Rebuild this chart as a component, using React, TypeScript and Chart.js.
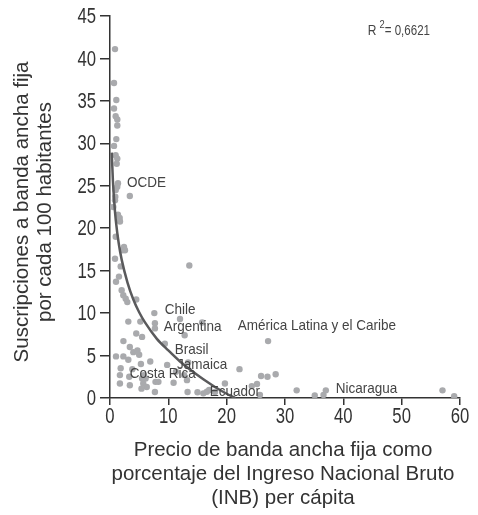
import React, { useEffect, useRef } from "react";
import { Chart, registerables } from "chart.js";

Chart.register(...registerables);

// Scatter data: price of fixed broadband (% of GNI per capita) vs subscriptions per 100 inhabitants
const priceX = [
  0.86, 0.69, 1.08, 0.69, 0.97, 1.25, 1.25, 1.08, 0.69, 0.97, 1.25, 1.15,
  1.37, 1.25, 0.98, 0.91, 0.86, 3.4, 0.57, 1.37, 1.66, 1.71, 0.98, 2.4,
  2.1, 2.57, 0.86, 1.83, 1.54, 13.6, 1.03, 2.0, 2.28, 2.69, 2.97, 4.5,
  7.6, 12.0, 15.8, 3.14, 5.2, 7.7, 7.7, 12.8, 4.5, 5.5, 2.3, 9.4,
  3.4, 4.0, 4.7, 5.0, 13.4, 1.03, 2.29, 3.14, 6.9, 9.8, 5.3, 1.83,
  3.83, 11.3, 1.7, 3.3, 5.8, 6.1, 5.5, 12.7, 13.2, 7.8, 1.7, 3.4,
  5.7, 6.3, 5.4, 7.7, 8.3, 10.9, 13.3, 15.0, 16.0, 16.6, 17.0, 18.0,
  19.7, 22.2, 24.3, 25.2, 25.9, 27.0, 28.4, 27.1, 25.7, 32.0, 35.1, 36.6,
  37.0, 57.0, 59.0,
];
const subsY = [
  41.1, 37.1, 35.1, 34.1, 33.2, 32.8, 32.1, 30.5, 29.7, 28.6, 28.2, 27.6,
  25.3, 24.9, 24.5, 23.7, 23.3, 23.8, 22.5, 21.6, 21.2, 20.8, 19.0, 17.8,
  17.4, 17.4, 16.4, 15.5, 14.3, 15.6, 13.7, 12.7, 12.1, 11.7, 11.3, 11.6,
  10.0, 9.3, 8.9, 9.0, 9.0, 8.8, 8.2, 7.4, 7.6, 7.2, 6.7, 6.4,
  6.0, 5.4, 5.6, 5.1, 4.2, 4.9, 4.9, 4.5, 4.3, 3.9, 4.0, 3.5,
  3.4, 3.1, 2.7, 2.5, 2.7, 2.3, 2.3, 2.7, 2.1, 1.9, 1.7, 1.5,
  1.7, 1.3, 1.1, 0.7, 1.9, 1.8, 0.7, 0.67, 0.55, 0.74, 0.94, 0.7,
  1.7, 3.4, 1.4, 1.65, 2.6, 2.5, 2.8, 6.7, 0.35, 0.9, 0.3, 0.35,
  0.9, 0.9, 0.2,
];

// Trend curve
const trendX = [0.3, 0.5, 0.75, 1, 1.5, 2, 3, 4, 5, 6, 8, 10, 12, 14, 16, 18, 20, 21.5];
const trendY = [28.9, 25.6, 22.9, 20.9, 18.2, 16.3, 13.6, 11.6, 10.1, 8.9, 7.0, 5.6, 4.3, 3.2, 2.2, 1.3, 0.5, 0.0];

const xTickValues = [0, 10, 20, 30, 40, 50, 60];
const yTickValues = [0, 5, 10, 15, 20, 25, 30, 35, 40, 45];

const noteTexts = ["OCDE", "Chile", "Argentina", "Brasil", "Jamaica", "Costa Rica", "Ecuador", "América Latina y el Caribe", "Nicaragua"];
const noteX = [2.9, 9.4, 9.2, 11.1, 11.5, 3.4, 17.1, 21.9, 38.7];
const noteY = [25.4, 10.4, 8.4, 5.65, 3.9, 2.8, 0.7, 8.5, 1.05];

const r2Text = "= 0,6621";
const xTitleLines = ["Precio de banda ancha fija como", "porcentaje del Ingreso Nacional Bruto", "(INB) per cápita"];
const yTitleLines = ["Suscripciones a banda ancha fija", "por cada 100 habitantes"];

const SANS = "'Liberation Sans', Arial, sans-serif";

function drawSqueezed(
  ctx: CanvasRenderingContext2D,
  text: string,
  x: number,
  y: number,
  sx: number,
  align: CanvasTextAlign
) {
  ctx.save();
  ctx.translate(x, y);
  ctx.scale(sx, 1);
  ctx.textAlign = align;
  ctx.fillText(text, 0, 0);
  ctx.restore();
}

const textPlugin = {
  id: "textPlugin",
  afterDraw(chart: any) {
    const ctx = chart.ctx as CanvasRenderingContext2D;
    const xs = chart.scales.x;
    const ys = chart.scales.y;
    const area = chart.chartArea;
    ctx.save();
    ctx.textBaseline = "middle";

    // tick labels
    ctx.fillStyle = "#333";
    ctx.font = `22px ${SANS}`;
    yTickValues.forEach((v) => {
      drawSqueezed(ctx, String(v), area.left - 14, ys.getPixelForValue(v) + 1, 0.76, "right");
    });
    xTickValues.forEach((v) => {
      drawSqueezed(ctx, String(v), xs.getPixelForValue(v), area.bottom + 19, 0.76, "center");
    });

    // annotations
    ctx.fillStyle = "#444";
    ctx.font = `15px ${SANS}`;
    noteTexts.forEach((t, i) => {
      drawSqueezed(ctx, t, xs.getPixelForValue(noteX[i]), ys.getPixelForValue(noteY[i]), 0.9, "left");
    });

    // R^2
    const rx = xs.getPixelForValue(44.2);
    const ry = ys.getPixelForValue(43.2);
    ctx.font = `15px ${SANS}`;
    drawSqueezed(ctx, "R", rx, ry, 0.8, "left");
    const rw = ctx.measureText("R").width * 0.8 + 3;
    ctx.font = `11px ${SANS}`;
    drawSqueezed(ctx, "2", rx + rw, ry - 6, 0.85, "left");
    const w2 = ctx.measureText("2").width * 0.85;
    ctx.font = `15px ${SANS}`;
    drawSqueezed(ctx, r2Text, rx + rw + w2, ry, 0.77, "left");

    // axis titles
    ctx.fillStyle = "#333";
    ctx.font = `20.5px ${SANS}`;
    ctx.textAlign = "center";
    const cx = (area.left + area.right) / 2 - 2;
    xTitleLines.forEach((l, i) => {
      ctx.fillText(l, cx, area.bottom + 52 + i * 24);
    });
    const cy = (area.top + area.bottom) / 2 + 5;
    yTitleLines.forEach((l, i) => {
      ctx.save();
      ctx.translate(22 + i * 23, cy);
      ctx.rotate(-Math.PI / 2);
      ctx.fillText(l, 0, 0);
      ctx.restore();
    });
    ctx.restore();
  },
};

export default function App() {
  const ref = useRef<HTMLCanvasElement | null>(null);
  useEffect(() => {
    if (!ref.current) return;
    const points = priceX.map((x, i) => ({ x, y: subsY[i] }));
    const trend = trendX.map((x, i) => ({ x, y: trendY[i] }));
    const axisCommon = {
      type: "linear" as const,
      border: { color: "#333", width: 1.5 },
      grid: { display: true, drawOnChartArea: false, drawTicks: true, color: "#333", lineWidth: 1.5 },
    };
    const chart = new Chart(ref.current, {
      type: "scatter",
      data: {
        datasets: [
          {
            data: trend,
            showLine: true,
            borderColor: "#5a5a5c",
            borderWidth: 2.5,
            pointRadius: 0,
            tension: 0.4,
            cubicInterpolationMode: "monotone",
            order: 0,
          } as any,
          {
            data: points,
            backgroundColor: "#a9aaad",
            borderWidth: 0,
            pointRadius: 3.2,
            order: 1,
          },
        ],
      },
      options: {
        animation: false,
        responsive: true,
        maintainAspectRatio: false,
        layout: { padding: { left: 0, right: 18, top: 16, bottom: 0 } },
        plugins: { legend: { display: false }, tooltip: { enabled: false } },
        scales: {
          x: {
            ...axisCommon,
            min: 0,
            max: 60,
            grid: { ...axisCommon.grid, tickLength: 7 },
            afterBuildTicks: (s: any) => {
              s.ticks = xTickValues.map((v) => ({ value: v }));
            },
            ticks: { display: false },
            afterFit: (s: any) => {
              s.height = 117;
            },
          },
          y: {
            ...axisCommon,
            min: 0,
            max: 45,
            grid: { ...axisCommon.grid, tickLength: 10 },
            afterBuildTicks: (s: any) => {
              s.ticks = yTickValues.map((v) => ({ value: v }));
            },
            ticks: { display: false },
            afterFit: (s: any) => {
              s.width = 110;
            },
          },
        },
      },
      plugins: [textPlugin],
    });
    return () => chart.destroy();
  }, []);
  return (
    <div style={{ position: "fixed", left: 0, top: 0, width: 478, height: 515, background: "#fff" }}>
      <canvas ref={ref} />
    </div>
  );
}
